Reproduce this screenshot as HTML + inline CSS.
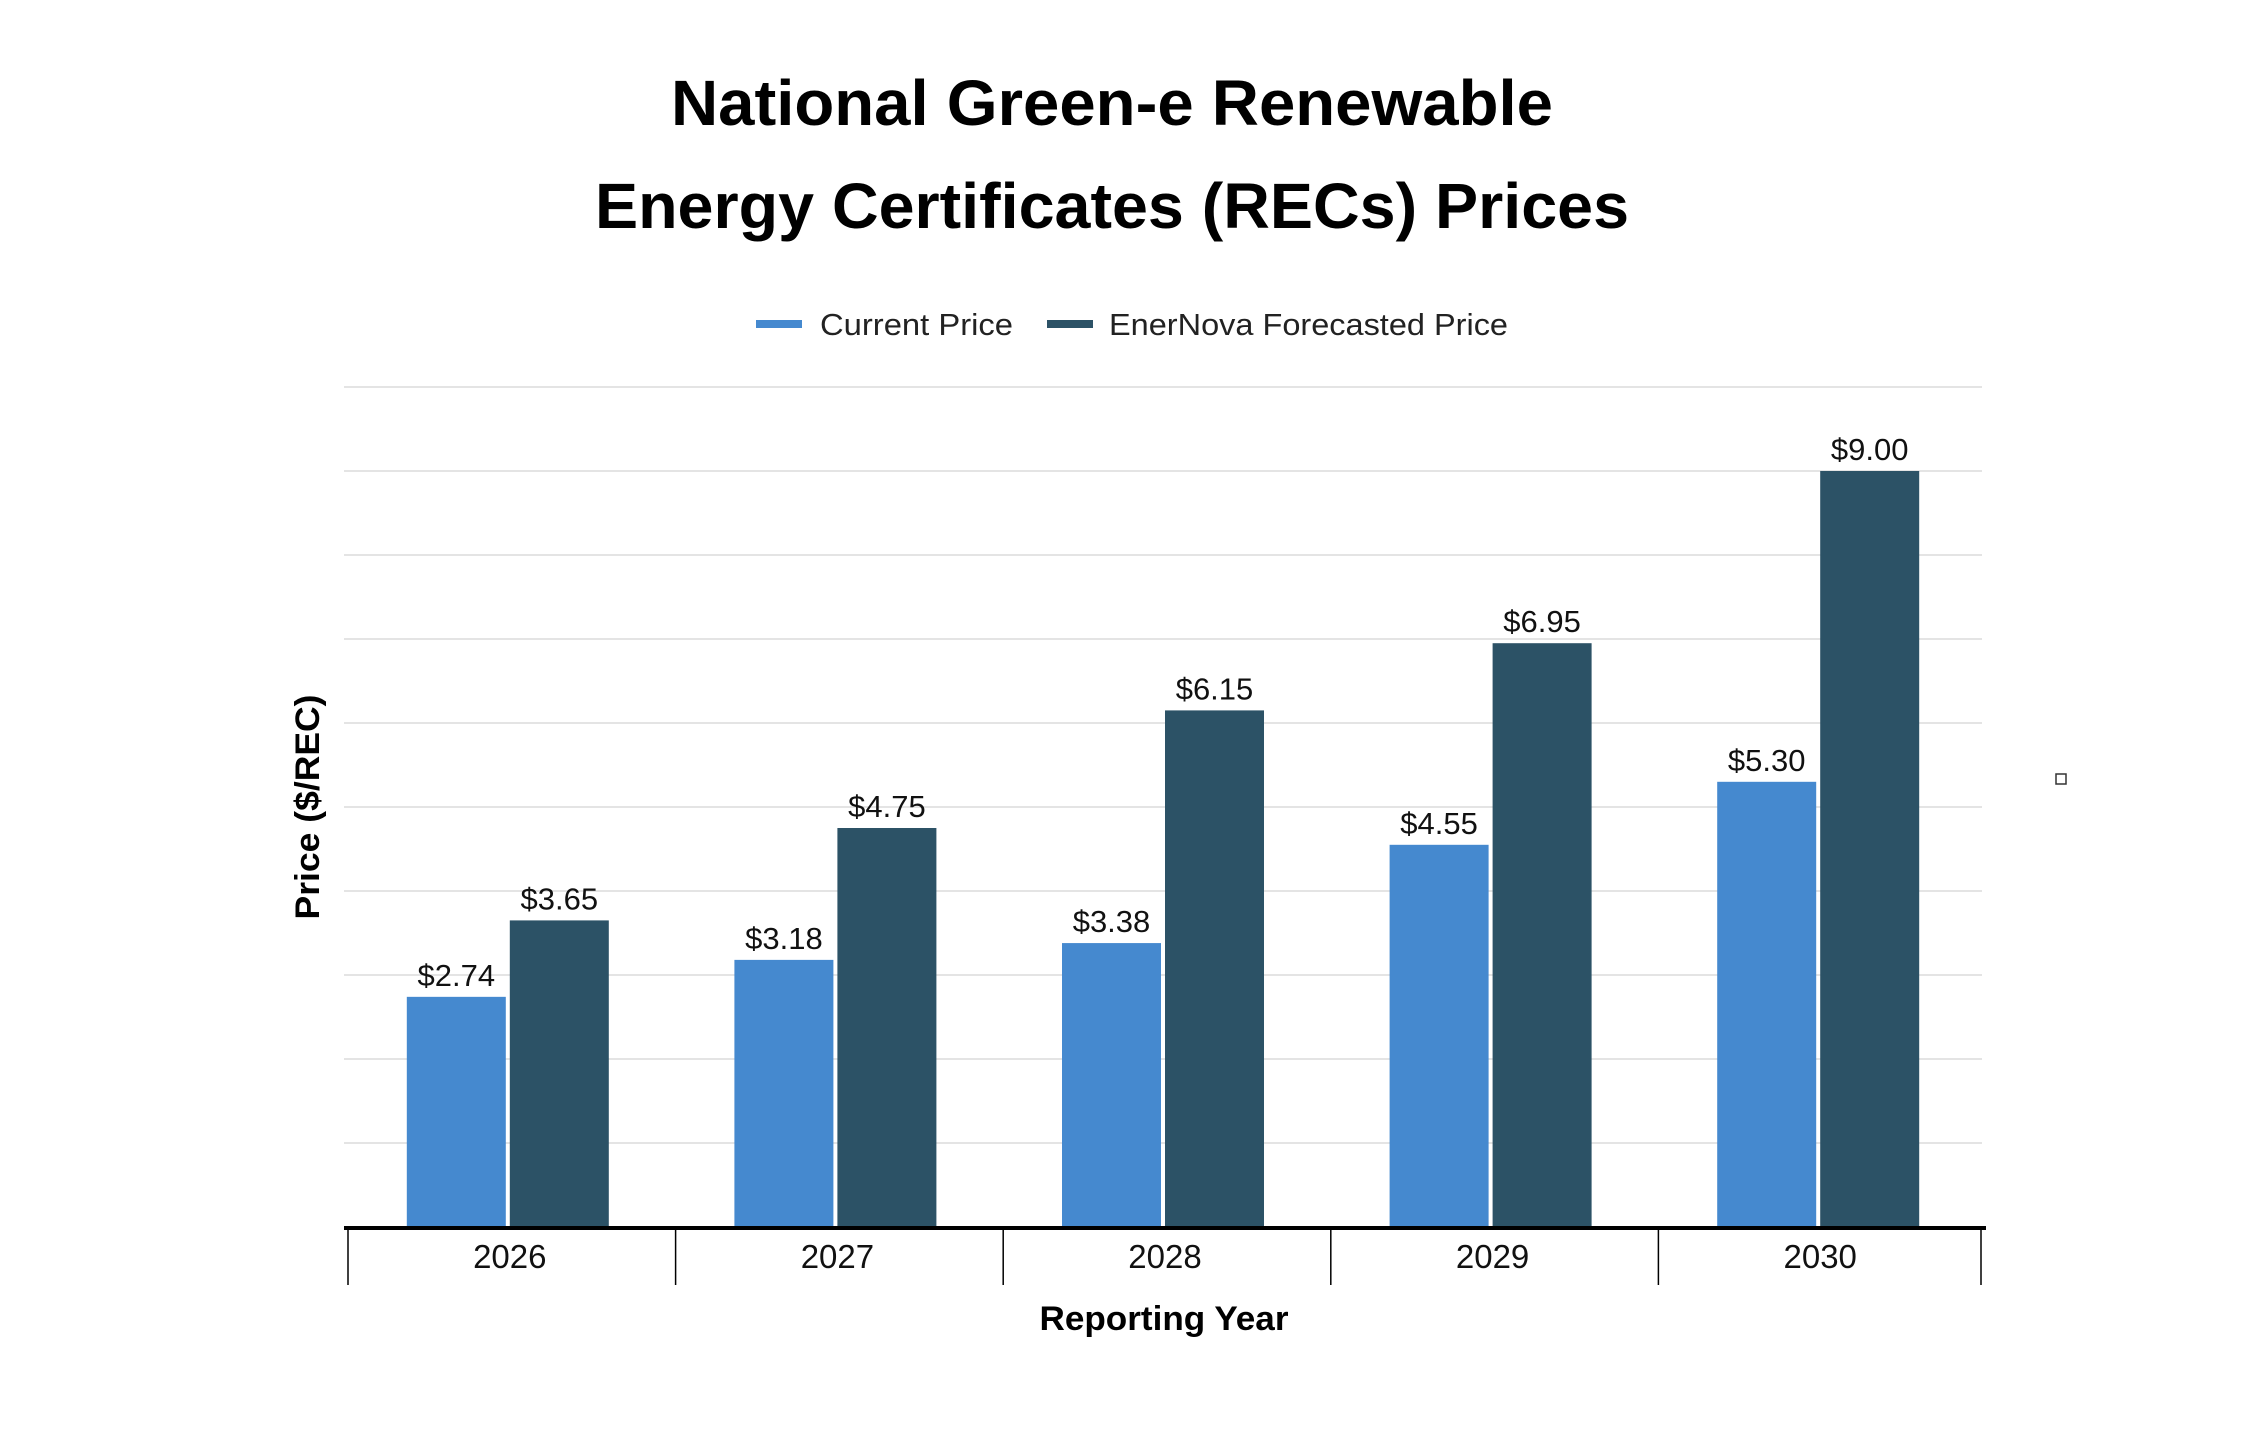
<!DOCTYPE html>
<html><head><meta charset="utf-8"><style>
html,body{margin:0;padding:0;background:#fff;}
svg{display:block;font-family:"Liberation Sans",sans-serif;}
</style></head><body>
<svg id="chart" width="2248" height="1442" viewBox="0 0 2248 1442" xmlns="http://www.w3.org/2000/svg">
<rect width="2248" height="1442" fill="#fff"/>
<g font-weight="bold" fill="#000" text-anchor="middle">
<text x="1112" y="125" font-size="64" textLength="882" lengthAdjust="spacingAndGlyphs">National Green-e Renewable</text>
<text x="1112" y="228" font-size="64" textLength="1034" lengthAdjust="spacingAndGlyphs">Energy Certificates (RECs) Prices</text>
</g>
<g>
<g>
<rect x="756" y="320" width="46" height="8" fill="#4589CF"/>
<text x="820" y="335" font-size="31" fill="#222" textLength="193" lengthAdjust="spacingAndGlyphs">Current Price</text></g>
<g>
<rect x="1047" y="320" width="46" height="8" fill="#2C5266"/>
<text x="1109" y="335" font-size="31" fill="#222" textLength="399" lengthAdjust="spacingAndGlyphs">EnerNova Forecasted Price</text></g>
</g>
<g id="grid"></g>
<g id="bars"></g>
<g id="labels"></g>
<g id="xaxis"></g>
<text transform="translate(319,807) rotate(-90)" text-anchor="middle" font-size="34" font-weight="bold" fill="#000" textLength="225" lengthAdjust="spacingAndGlyphs">Price ($/REC)</text>
<text x="1164" y="1330" text-anchor="middle" font-size="34" font-weight="bold" fill="#000" textLength="249" lengthAdjust="spacingAndGlyphs">Reporting Year</text>
<rect x="2056" y="774" width="10" height="10" fill="#fff" stroke="#333" stroke-width="1.5"/>
</svg>
<script>
const categories = ["2026","2027","2028","2029","2030"];
const currentPrice = [2.74, 3.18, 3.38, 4.55, 5.30];
const forecastPrice = [3.65, 4.75, 6.15, 6.95, 9.00];
const yTicks = [0,1,2,3,4,5,6,7,8,9,10];

const NS = "http://www.w3.org/2000/svg";
const plotLeft = 344, plotRight = 1982, plotTop = 387, plotBase = 1227, yMax = 10;
const band = (plotRight - plotLeft) / categories.length;
function yScale(v){ return plotBase - (v / yMax) * (plotBase - plotTop); }
function xCenter(i){ return plotLeft + band * (i + 0.5); }
function mk(tag, attrs, parent){ const e = document.createElementNS(NS, tag); for (const k in attrs) e.setAttribute(k, attrs[k]); parent.appendChild(e); return e; }

const grid = document.getElementById('grid');
yTicks.forEach(t => {
  if (t === 0) return;
  const l = mk('line', {x1: plotLeft, x2: plotRight, y1: yScale(t), y2: yScale(t), stroke: '#e4e4e4', 'stroke-width': 2}, grid);
  
  
});

const bars = document.getElementById('bars');
const labels = document.getElementById('labels');
const bw = 99, gap = 4;
function fmt(v){ return '$' + v.toFixed(2); }
categories.forEach((c, i) => {
  const cx = xCenter(i);
  [[currentPrice[i], cx - gap/2 - bw, '#4589CF', 'bar-current-' + c], [forecastPrice[i], cx + gap/2, '#2C5266', 'bar-forecast-' + c]].forEach(([v, x, col, nm]) => {
    const r = mk('rect', {x: x, y: yScale(v), width: bw, height: plotBase - yScale(v), fill: col}, bars);
    
    
    const t = mk('text', {x: x + bw/2, y: yScale(v) - 11, 'text-anchor': 'middle', 'font-size': 31, fill: '#111'}, labels);
    t.textContent = fmt(v);
    
    
  });
});

const xa = document.getElementById('xaxis');
const bl = mk('line', {x1: plotLeft, x2: plotRight + 4, y1: plotBase + 1, y2: plotBase + 1, stroke: '#000', 'stroke-width': 4}, xa);


for (let i = 0; i <= categories.length; i++) {
  const x = plotLeft + 4 + band * i - (i === categories.length ? 5 : 0);
  const tk = mk('line', {x1: x, x2: x, y1: plotBase + 3, y2: plotBase + 58, stroke: '#000', 'stroke-width': 1.5}, xa);
  
  
}
categories.forEach((c, i) => {
  const t = mk('text', {x: xCenter(i) + 2, y: plotBase + 41, 'text-anchor': 'middle', 'font-size': 33, fill: '#111'}, xa);
  t.textContent = c;
  
  
});
</script>
</body></html>
